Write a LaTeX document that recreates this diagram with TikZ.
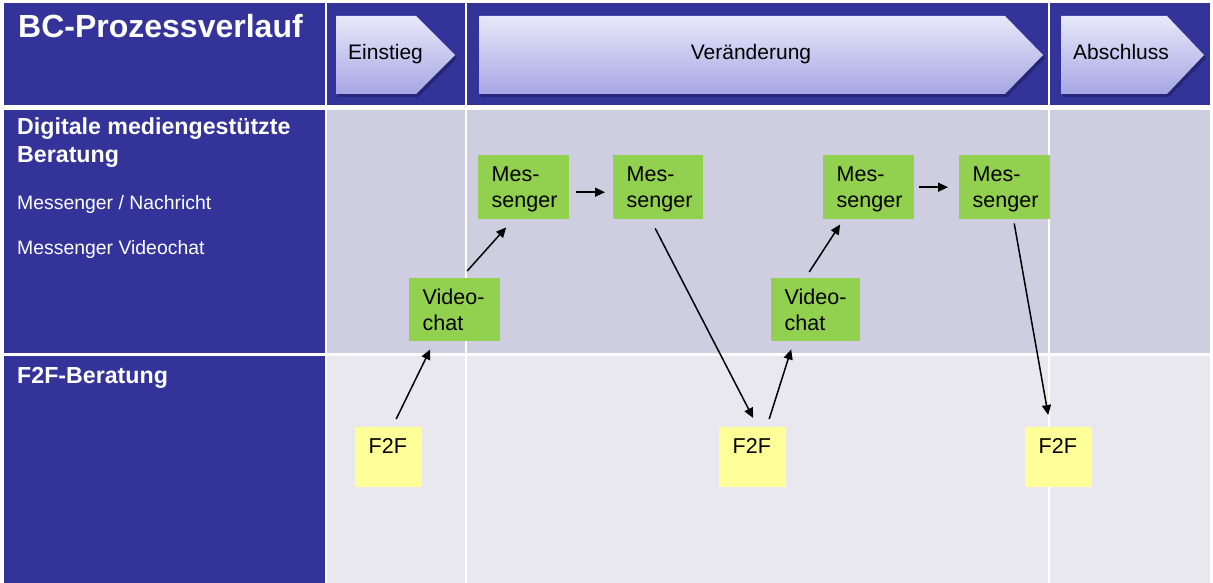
\documentclass[tikz,border=0pt]{standalone}
\usepackage{fontspec}
\setmainfont{Liberation Sans}
\usetikzlibrary{arrows.meta,calc}
\definecolor{dblue}{RGB}{51,51,153}
\definecolor{rowa}{RGB}{207,206,224}
\definecolor{rowb}{RGB}{232,232,238}
\definecolor{gboxc}{RGB}{146,208,80}
\definecolor{yboxc}{RGB}{255,255,153}
\definecolor{chevtop}{RGB}{232,232,250}
\definecolor{chevbot}{RGB}{166,166,228}
\definecolor{chevshadow}{RGB}{30,30,100}
\begin{document}
\begin{tikzpicture}[x=1pt,y=-1pt,
  hdrcell/.style={fill=dblue},
  cella/.style={fill=rowa},
  cellb/.style={fill=rowb},
  chev/.style={top color=chevtop,bottom color=chevbot,draw=none},
  chevsh/.style={fill=chevshadow,opacity=0.6},
  hdrtext/.style={font=\fontsize{21}{25}\selectfont,inner sep=0pt,text=black},
  lefthead/.style={font=\bfseries\fontsize{23.2}{28}\selectfont,text=white,inner sep=0pt,anchor=base west},
  leftsub/.style={font=\fontsize{19.4}{23}\selectfont,text=white,inner sep=0pt,anchor=base west},
  boxbase/.style={rectangle,anchor=north west,inner xsep=13.5pt,inner ysep=0pt,align=left,
     text height=26.5pt,font=\fontsize{21.5}{26}\selectfont,text=black},
  gbox/.style={boxbase,fill=gboxc},
  ybox/.style={boxbase,fill=yboxc},
  arr/.style={-{Triangle[length=10pt,width=9pt]},line width=1.5pt,black}
]
\useasboundingbox (0,0) rectangle (1213,583);
\fill[white] (0,0) rectangle (1213,583);
% header row
\fill[hdrcell] (4,3) rectangle (325,105);
\fill[hdrcell] (327,3) rectangle (465,105);
\fill[hdrcell] (467,3) rectangle (1048,105);
\fill[hdrcell] (1050,3) rectangle (1210,105);
% digital row
\fill[hdrcell] (4,110) rectangle (325,353);
\fill[cella] (327,110) rectangle (465,353);
\fill[cella] (467,110) rectangle (1048,353);
\fill[cella] (1050,110) rectangle (1210,353);
% F2F row
\fill[hdrcell] (4,356) rectangle (325,583);
\fill[cellb] (327,356) rectangle (465,583);
\fill[cellb] (467,356) rectangle (1048,583);
\fill[cellb] (1050,356) rectangle (1210,583);

% chevrons
\fill[chevsh] (338,19) -- (418,19) -- (457.5,58) -- (418,97) -- (338,97) -- cycle;
\shade[chev] (336,16) -- (416,16) -- (455,55) -- (416,94) -- (336,94) -- cycle;
\fill[chevsh] (481,19) -- (1007,19) -- (1045.5,58) -- (1007,97) -- (481,97) -- cycle;
\shade[chev] (479,16) -- (1005,16) -- (1043,55) -- (1005,94) -- (479,94) -- cycle;
\fill[chevsh] (1063,19) -- (1169,19) -- (1206.5,58) -- (1169,97) -- (1063,97) -- cycle;
\shade[chev] (1061,16) -- (1167,16) -- (1204,55) -- (1167,94) -- (1061,94) -- cycle;

\node[hdrtext,anchor=base west] (einstieg) at (348,60) {Einstieg};
\node[hdrtext,anchor=base] (veraend) at (751,60) {Veränderung};
\node[hdrtext,anchor=base west] (abschluss) at (1073,60) {Abschluss};

% title and row labels
\node[font=\bfseries\fontsize{32}{36}\selectfont,text=white,inner sep=0pt,anchor=base west] (title) at (18,38) {BC-Prozessverlauf};
\node[lefthead] (dig1) at (17,135) {Digitale mediengestützte};
\node[lefthead] (dig2) at (17,163) {Beratung};
\node[leftsub] (msg) at (17,209) {Messenger / Nachricht};
\node[leftsub] (vid) at (17,254) {Messenger Videochat};
\node[lefthead] (f2fl) at (17,383) {F2F-Beratung};

% boxes
\node[gbox,text width=64pt,text depth=37.5pt,minimum width=91pt] (m1) at (478,155) {Mes-\\senger};
\node[gbox,text width=63pt,text depth=37.5pt,minimum width=90pt] (m2) at (613,155) {Mes-\\senger};
\node[gbox,text width=64pt,text depth=37.5pt,minimum width=91pt] (m3) at (823,155) {Mes-\\senger};
\node[gbox,text width=64pt,text depth=37.5pt,minimum width=91pt] (m4) at (959,155) {Mes-\\senger};
\node[gbox,text width=64pt,text depth=36.5pt,minimum width=91pt] (v1) at (409,278) {Video-\\chat};
\node[gbox,text width=62pt,text depth=36.5pt,minimum width=89pt] (v2) at (771,278) {Video-\\chat};
\node[ybox,text width=40pt,text depth=33.5pt,minimum width=67pt] (f1) at (355,427) {F2F};
\node[ybox,text width=40pt,text depth=33.5pt,minimum width=67pt] (f2) at (719,427) {F2F};
\node[ybox,text width=40pt,text depth=33.5pt,minimum width=67pt] (f3) at (1025,427) {F2F};

% connectors
\draw[arr] ($(f1.north)+(7.5,-8)$) -- ($(v1.south)+(-24.5,8)$);
\draw[arr] ($(v1.north)+(12.5,-7)$) -- ($(m1.south)+(-17.5,8)$);
\draw[arr] ($(m1.east)+(7,5)$) -- ($(m2.west)+(-8,5)$);
\draw[arr] ($(m2.south)+(-3,9)$) -- ($(f2.north)+(0.5,-9)$);
\draw[arr] ($(f2.north)+(16.5,-8)$) -- ($(v2.south)+(-24.5,8)$);
\draw[arr] ($(v2.north)+(-6.5,-6)$) -- ($(m3.south)+(-28.5,5)$);
\draw[arr] ($(m3.east)+(5,0)$) -- ($(m4.west)+(-11,0)$);
\draw[arr] ($(m4.south)+(9.5,4)$) -- ($(f3.north)+(-10.5,-12)$);
\end{tikzpicture}
\end{document}
